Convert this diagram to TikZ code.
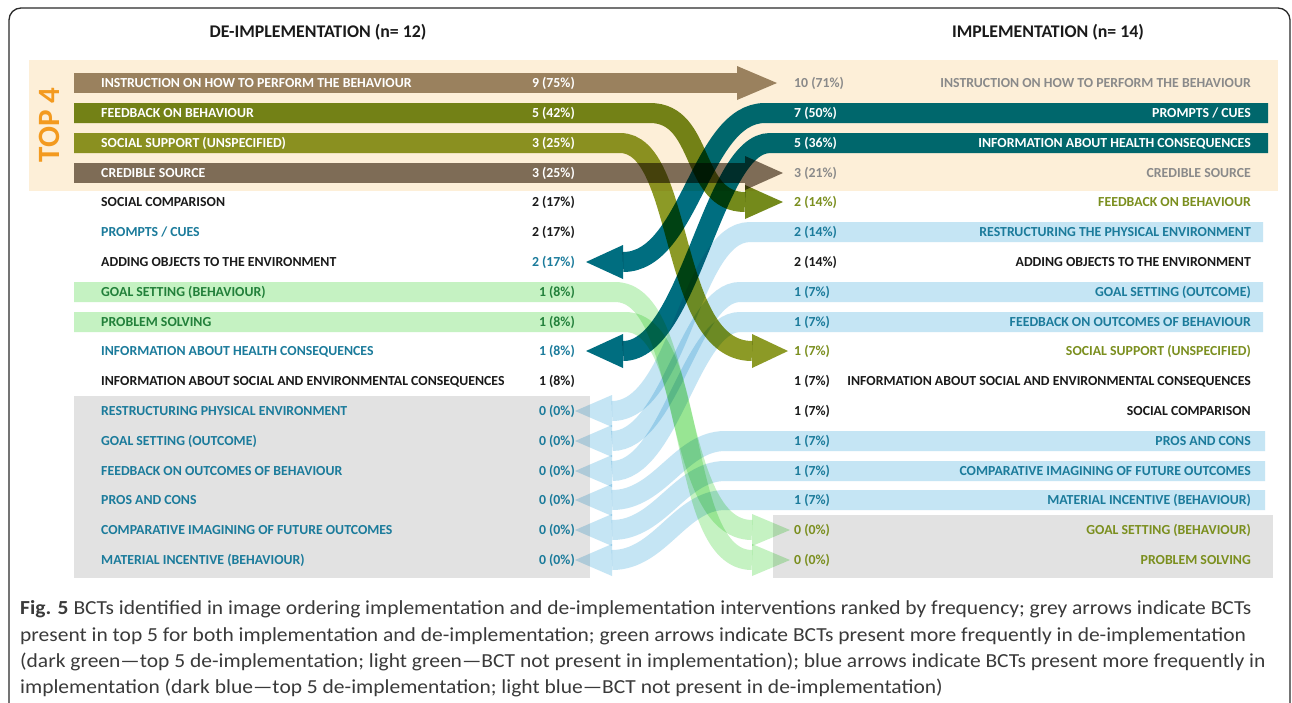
\documentclass[tikz,border=0pt]{standalone}
\usepackage{fontspec}
\setmainfont{Carlito}
\newfontfamily\capfont[FakeStretch=1.08]{Carlito}
\definecolor{peach}{HTML}{FDEFD8}
\definecolor{instr}{HTML}{9C8A70}
\definecolor{fbol}{HTML}{748A1B}
\definecolor{ssol}{HTML}{8C9A26}
\definecolor{cred}{HTML}{807466}
\definecolor{teal}{HTML}{006E80}
\definecolor{lblue}{HTML}{C5E5F4}
\definecolor{lgreen}{HTML}{C5F2C2}
\definecolor{greybox}{HTML}{E2E2E2}
\definecolor{orangetop}{HTML}{F39A1F}
\definecolor{txtteal}{HTML}{1B7B9B}
\definecolor{txtgreen}{HTML}{22803A}
\definecolor{txtolive}{HTML}{7B8F1F}
\definecolor{txtgrey}{HTML}{8A8A8A}
\definecolor{txtblack}{HTML}{1A1A1A}
\definecolor{capc}{HTML}{3A3A3A}
\definecolor{framec}{HTML}{2A2A2A}
\newcommand\lrow[6]{%
  \node[lbl, text=#5, anchor=base west] (L#1) at (101,#2+4.7) {#3};
  \node[lbl, text=#6, anchor=base east] (LN#1) at (575,#2+4.7) {#4};}
\newcommand\rrow[6]{%
  \node[lbl, text=#6, anchor=base east] (R#1) at (1251,#2+4.7) {#3};
  \node[lbl, text=#5, anchor=base west] (RN#1) at (794,#2+4.7) {#4};}
\newcommand\headR[4]{\fill[#4] (#1,#2-16) -- ++(#3,16) -- ++(-#3,16) -- cycle;}
\newcommand\headL[4]{\fill[#4] (#1,#2-16) -- ++(-#3,16) -- ++(#3,16) -- cycle;}
\begin{document}
\begin{tikzpicture}[x=1pt,y=-1pt,
  lbl/.style={font=\bfseries\fontsize{13.8}{16}\selectfont, inner sep=0pt},
  band/.style={line width=20pt},
  hdr/.style={font=\bfseries\fontsize{17.8}{20}\selectfont, text=txtblack, inner sep=0pt},
  capline/.style={font=\capfont\fontsize{19.9}{23}\selectfont, text=capc, inner sep=0pt, anchor=base west}]
\useasboundingbox (0,0) rectangle (1292,702);
\fill[white] (0,0) rectangle (1292,702);
\draw[framec, line width=1.3pt, rounded corners=12pt] (9,8) rectangle (1290,740);
% backgrounds
\fill[peach] (29,60) rectangle (1278,191);
\fill[greybox] (74,396) rectangle (590,578);
\fill[greybox] (773,515) rectangle (1273,578);
\node[font=\bfseries\fontsize{31}{31}\selectfont, text=orangetop, rotate=90, inner sep=0pt] (top4) at (49,125) {TOP 4};
% headers
\node[hdr] (hL) at (318,32) {DE-IMPLEMENTATION (n= 12)};
\node[hdr] (hR) at (1048,32) {IMPLEMENTATION (n= 14)};
% bands
\begin{scope}[blend mode=multiply]
% light blue (implementation only)
\draw[band, lblue] (1263,232) -- (750,232) .. controls (690,232) and (680,411) .. (612,411);
\headL{612}{411}{37}{lblue}
\draw[band, lblue] (1263,292) -- (740,292) .. controls (690,292) and (670,441) .. (612,441);
\headL{612}{441}{37}{lblue}
\draw[band, lblue] (1263,322) -- (740,322) .. controls (690,322) and (670,471) .. (612,471);
\headL{612}{471}{37}{lblue}
\draw[band, lblue] (1265,441) -- (725,441) .. controls (680,441) and (660,500) .. (612,500);
\headL{612}{500}{37}{lblue}
\draw[band, lblue] (1265,471) -- (725,471) .. controls (680,471) and (660,530) .. (612,530);
\headL{612}{530}{37}{lblue}
\draw[band, lblue] (1265,500) -- (725,500) .. controls (680,500) and (660,560) .. (612,560);
\headL{612}{560}{37}{lblue}
% light green
\draw[band, lgreen] (74,292) -- (615,292) .. controls (690,292) and (670,530) .. (752,530);
\headR{752}{530}{38}{lgreen}
\draw[band, lgreen] (74,322) -- (625,322) .. controls (700,322) and (675,560) .. (752,560);
\headR{752}{560}{38}{lgreen}
% grey
\draw[band, instr] (74,83) -- (737,83);
\fill[instr] (737,66) -- (777,83) -- (737,100) -- cycle;
\draw[band, cred] (74,173) -- (745,173);
\fill[cred] (745,156) -- (783,173) -- (745,190) -- cycle;
% dark green
\draw[band, fbol] (74,113) -- (650,113) .. controls (705,113) and (690,202) .. (745,202);
\fill[fbol] (745,185) -- (783,202) -- (745,219) -- cycle;
\draw[band, ssol] (74,143) -- (620,143) .. controls (685,143) and (668,351) .. (752,351);
\fill[ssol] (752,334) -- (788,351) -- (752,368) -- cycle;
% dark blue
\draw[band, teal] (1268,113) -- (765,113) .. controls (700,113) and (690,262) .. (623,262);
\fill[teal] (623,245) -- (586,262) -- (623,279) -- cycle;
\draw[band, teal] (1268,143) -- (770,143) .. controls (712,143) and (690,351) .. (623,351);
\fill[teal] (623,334) -- (586,351) -- (623,368) -- cycle;
\end{scope}
% left rows
\lrow{1}{83}{INSTRUCTION ON HOW TO PERFORM THE BEHAVIOUR}{9 (75\%)}{white}{white}
\lrow{2}{113}{FEEDBACK ON BEHAVIOUR}{5 (42\%)}{white}{white}
\lrow{3}{143}{SOCIAL SUPPORT (UNSPECIFIED)}{3 (25\%)}{white}{white}
\lrow{4}{173}{CREDIBLE SOURCE}{3 (25\%)}{white}{white}
\lrow{5}{202}{SOCIAL COMPARISON}{2 (17\%)}{txtblack}{txtblack}
\lrow{6}{232}{PROMPTS / CUES}{2 (17\%)}{txtteal}{txtblack}
\lrow{7}{262}{ADDING OBJECTS TO THE ENVIRONMENT}{2 (17\%)}{txtblack}{txtteal}
\lrow{8}{292}{GOAL SETTING (BEHAVIOUR)}{1 (8\%)}{txtgreen}{txtgreen}
\lrow{9}{322}{PROBLEM SOLVING}{1 (8\%)}{txtgreen}{txtgreen}
\lrow{10}{351}{INFORMATION ABOUT HEALTH CONSEQUENCES}{1 (8\%)}{txtteal}{txtteal}
\lrow{11}{381}{INFORMATION ABOUT SOCIAL AND ENVIRONMENTAL CONSEQUENCES}{1 (8\%)}{txtblack}{txtblack}
\lrow{12}{411}{RESTRUCTURING PHYSICAL ENVIRONMENT}{0 (0\%)}{txtteal}{txtteal}
\lrow{13}{441}{GOAL SETTING (OUTCOME)}{0 (0\%)}{txtteal}{txtteal}
\lrow{14}{471}{FEEDBACK ON OUTCOMES OF BEHAVIOUR}{0 (0\%)}{txtteal}{txtteal}
\lrow{15}{500}{PROS AND CONS}{0 (0\%)}{txtteal}{txtteal}
\lrow{16}{530}{COMPARATIVE IMAGINING OF FUTURE OUTCOMES}{0 (0\%)}{txtteal}{txtteal}
\lrow{17}{560}{MATERIAL INCENTIVE (BEHAVIOUR)}{0 (0\%)}{txtteal}{txtteal}
% right rows
\rrow{1}{83}{INSTRUCTION ON HOW TO PERFORM THE BEHAVIOUR}{10 (71\%)}{txtgrey}{txtgrey}
\rrow{2}{113}{PROMPTS / CUES}{7 (50\%)}{white}{white}
\rrow{3}{143}{INFORMATION ABOUT HEALTH CONSEQUENCES}{5 (36\%)}{white}{white}
\rrow{4}{173}{CREDIBLE SOURCE}{3 (21\%)}{txtgrey}{txtgrey}
\rrow{5}{202}{FEEDBACK ON BEHAVIOUR}{2 (14\%)}{txtolive}{txtolive}
\rrow{6}{232}{RESTRUCTURING THE PHYSICAL ENVIRONMENT}{2 (14\%)}{txtteal}{txtteal}
\rrow{7}{262}{ADDING OBJECTS TO THE ENVIRONMENT}{2 (14\%)}{txtblack}{txtblack}
\rrow{8}{292}{GOAL SETTING (OUTCOME)}{1 (7\%)}{txtteal}{txtteal}
\rrow{9}{322}{FEEDBACK ON OUTCOMES OF BEHAVIOUR}{1 (7\%)}{txtteal}{txtteal}
\rrow{10}{351}{SOCIAL SUPPORT (UNSPECIFIED)}{1 (7\%)}{txtolive}{txtolive}
\rrow{11}{381}{INFORMATION ABOUT SOCIAL AND ENVIRONMENTAL CONSEQUENCES}{1 (7\%)}{txtblack}{txtblack}
\rrow{12}{411}{SOCIAL COMPARISON}{1 (7\%)}{txtblack}{txtblack}
\rrow{13}{441}{PROS AND CONS}{1 (7\%)}{txtteal}{txtteal}
\rrow{14}{471}{COMPARATIVE IMAGINING OF FUTURE OUTCOMES}{1 (7\%)}{txtteal}{txtteal}
\rrow{15}{500}{MATERIAL INCENTIVE (BEHAVIOUR)}{1 (7\%)}{txtteal}{txtteal}
\rrow{16}{530}{GOAL SETTING (BEHAVIOUR)}{0 (0\%)}{txtolive}{txtolive}
\rrow{17}{560}{PROBLEM SOLVING}{0 (0\%)}{txtolive}{txtolive}
% caption
\node[capline] (c1) at (20,614) {\textbf{Fig. 5} BCTs identified in image ordering implementation and de-implementation interventions ranked by frequency; grey arrows indicate BCTs};
\node[capline] (c2) at (20,641) {present in top 5 for both implementation and de-implementation; green arrows indicate BCTs present more frequently in de-implementation};
\node[capline] (c3) at (20,667) {(dark green—top 5 de-implementation; light green—BCT not present in implementation); blue arrows indicate BCTs present more frequently in};
\node[capline] (c4) at (20,693) {implementation (dark blue—top 5 de-implementation; light blue—BCT not present in de-implementation)};
\end{tikzpicture}
\end{document}
